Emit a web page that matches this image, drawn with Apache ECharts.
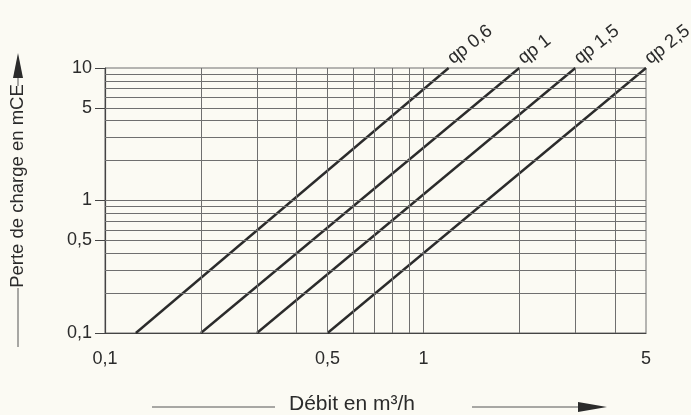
<!DOCTYPE html>
<html lang="fr">
<head>
    <meta charset="UTF-8">
    <title>Perte de charge</title>
    <style>
        *{
            margin: 0;
            padding: 0;
        }
        body{
            background: #fbfaf3;
        }
        .box{
            width: 691px;
            height: 415px;
        }
    </style>
    <script src="https://cdn.jsdelivr.net/npm/echarts@6/dist/echarts.min.js"></script>
</head>
<body>
    <div class="box" id="box"></div>
    <script>
        // courbes : debit (m3/h) -> perte de charge (mCE), deux points par droite (log-log)
        var names = ['qp 0,6', 'qp 1', 'qp 1,5', 'qp 2,5'];
        var debit = [
            [0.125, 1.2],
            [0.2, 2],
            [0.3, 3],
            [0.5, 5]
        ];
        var perte = [
            [0.1, 10],
            [0.1, 10],
            [0.1, 10],
            [0.1, 10]
        ];

        // quadrillage et graduations
        var xGrid = [0.1, 0.2, 0.3, 0.4, 0.5, 0.6, 0.7, 0.8, 0.9, 1, 2, 3, 4, 5];
        var yGrid = [0.1, 0.2, 0.3, 0.4, 0.5, 0.6, 0.7, 0.8, 0.9, 1, 2, 3, 4, 5, 6, 7, 8, 9, 10];
        var xLabels = [0.1, 0.5, 1, 5];
        var yLabels = [0.1, 0.5, 1, 5, 10];

        var ink = '#2b2b2b';
        var gridColor = '#6f6f6f';
        var font = 'Liberation Sans, Arial, sans-serif';

        function fr(v){
            return String(v).replace('.', ',');
        }

        var series = [];
        for(var i = 0; i < names.length; i++){
            var pts = [];
            for(var j = 0; j < debit[i].length; j++){
                pts.push([debit[i][j], perte[i][j]]);
            }
            // etiquette sur le dernier point
            pts[pts.length - 1] = {
                value: pts[pts.length - 1],
                label: {
                    show: true,
                    formatter: names[i],
                    position: 'right',
                    distance: 7,
                    rotate: 38,
                    align: 'left',
                    verticalAlign: 'bottom',
                    color: ink,
                    fontSize: 18.5,
                    fontFamily: font
                }
            };
            series.push({
                name: names[i],
                type: 'line',
                data: pts,
                symbol: 'circle',
                symbolSize: 0,
                showSymbol: true,
                silent: true,
                lineStyle: { color: ink, width: 2.4 },
                itemStyle: { color: ink }
            });
        }

        // quadrillage dessine en markLine (valeurs de l'axe log)
        var gridLines = [];
        for(var k = 1; k < xGrid.length - 1; k++){
            gridLines.push({ xAxis: xGrid[k] });
        }
        for(var m = 1; m < yGrid.length - 1; m++){
            gridLines.push({ yAxis: yGrid[m] });
        }
        series.push({
            type: 'line',
            data: [],
            silent: true,
            markLine: {
                symbol: ['none', 'none'],
                silent: true,
                label: { show: false },
                lineStyle: { color: gridColor, width: 1, type: 'solid' },
                animation: false,
                data: gridLines
            }
        });

        var myChart = echarts.init(document.getElementById('box'));
        var option = {
            backgroundColor: '#fbfaf3',
            animation: false,
            grid: {
                left: 105,
                right: 45,
                top: 68,
                bottom: 82,
                show: true,
                borderColor: gridColor,
                borderWidth: 1
            },
            xAxis: {
                type: 'log',
                logBase: 10,
                min: 0.1,
                max: 5,
                axisLine: { show: true, lineStyle: { color: '#444', width: 1.2 } },
                axisTick: { show: false },
                splitLine: { show: false },
                axisLabel: {
                    customValues: xLabels,
                    formatter: fr,
                    margin: 17,
                    color: ink,
                    fontSize: 18,
                    fontFamily: font
                }
            },
            yAxis: {
                type: 'log',
                logBase: 10,
                min: 0.1,
                max: 10,
                axisLine: { show: true, lineStyle: { color: '#444', width: 1.2 } },
                axisTick: {
                    show: true,
                    customValues: yLabels,
                    length: 10,
                    lineStyle: { color: '#444' }
                },
                splitLine: { show: false },
                axisLabel: {
                    customValues: yLabels,
                    formatter: fr,
                    margin: 13,
                    color: ink,
                    fontSize: 18,
                    fontFamily: font
                }
            },
            graphic: [
                // titre axe x
                { type: 'line', shape: { x1: 152, y1: 407, x2: 275, y2: 407 }, style: { stroke: '#555', lineWidth: 1 } },
                { type: 'text', x: 352, y: 404, style: { text: 'Débit en m³/h', fill: ink, fontSize: 21, fontFamily: font, align: 'center', verticalAlign: 'middle' } },
                { type: 'line', shape: { x1: 472, y1: 407, x2: 582, y2: 407 }, style: { stroke: '#555', lineWidth: 1 } },
                { type: 'polygon', shape: { points: [[578, 402], [607, 407], [578, 412]] }, style: { fill: ink } },
                // titre axe y
                { type: 'line', shape: { x1: 18, y1: 347, x2: 18, y2: 288 }, style: { stroke: '#555', lineWidth: 1 } },
                { type: 'text', x: 18, y: 186, rotation: Math.PI / 2, style: { text: 'Perte de charge en mCE', fill: ink, fontSize: 18.5, fontFamily: font, align: 'center', verticalAlign: 'middle' } },
                { type: 'line', shape: { x1: 18, y1: 86, x2: 18, y2: 75 }, style: { stroke: '#555', lineWidth: 1 } },
                { type: 'polygon', shape: { points: [[13, 78], [18, 53], [23, 78]] }, style: { fill: ink } }
            ],
            series: series
        };
        myChart.setOption(option);
    </script>
</body>
</html>
